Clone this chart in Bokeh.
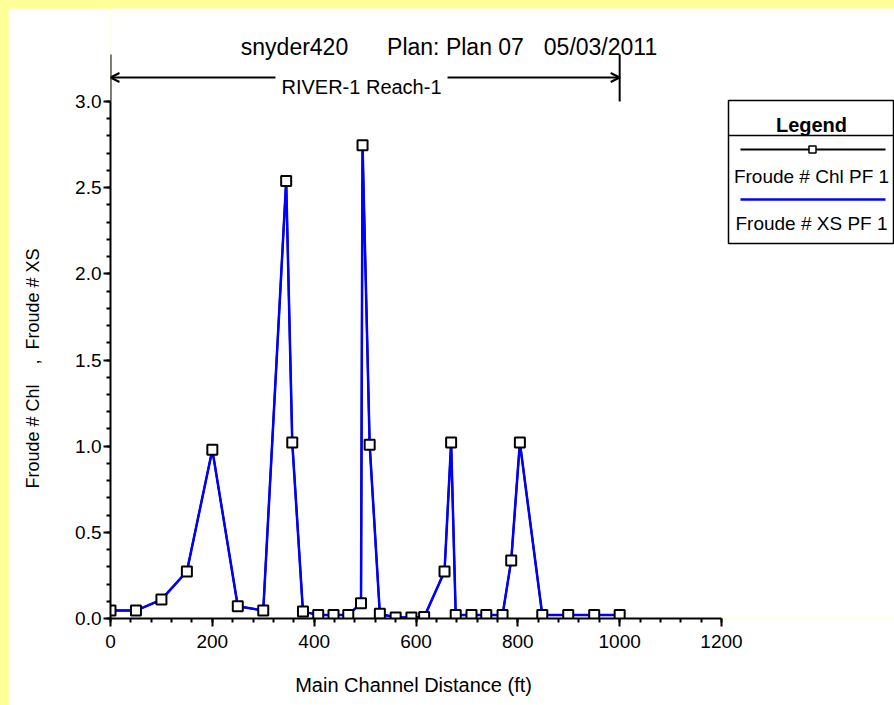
from bokeh.plotting import figure
from bokeh.models import (Range1d, SingleIntervalTicker, NumeralTickFormatter, Label,
                          Arrow, OpenHead, BoxAnnotation)
from bokeh.embed import file_html
from bokeh.resources import INLINE

# ---------------- data ----------------
stations = [0, 50, 100, 150, 200, 250, 300, 345, 357, 378, 408, 438, 467, 492, 495, 509,
            529, 560, 591, 616, 656, 669, 678, 709, 738, 770, 787, 804, 848, 899, 950, 1000]
froude_chl = [0.046, 0.046, 0.11, 0.273, 0.979, 0.071, 0.046, 2.538, 1.021, 0.04, 0.021, 0.021,
              0.021, 0.089, 2.746, 1.008, 0.027, 0.006, 0.006, 0.008, 0.273, 1.021, 0.021, 0.021,
              0.021, 0.021, 0.337, 1.021, 0.021, 0.021, 0.021, 0.021]
froude_xs = [0.046, 0.046, 0.11, 0.273, 0.979, 0.071, 0.046, 2.538, 1.021, 0.04, 0.021, 0.021,
             0.021, 0.089, 2.746, 1.008, 0.027, 0.006, 0.006, 0.008, 0.273, 1.021, 0.021, 0.021,
             0.021, 0.021, 0.337, 1.021, 0.021, 0.021, 0.021, 0.021]
x_axis_limits = [0, 1200]
y_axis_limits = [0.0, 3.0]
reach_limits = [0, 1000]
title_parts = ["snyder420", "Plan: Plan 07", "05/03/2011"]
reach_name = "RIVER-1 Reach-1"
legend_title = "Legend"
legend_labels = ["Froude # Chl PF 1", "Froude # XS PF 1"]
x_label = "Main Channel Distance (ft)"
y_label = "Froude # Chl\u00a0\u00a0\u00a0\u00a0,\u00a0\u00a0Froude # XS"

# ---------------- layout helpers (page pixel -> data) ----------------
AX_LEFT, AX_RIGHT = 110, 721      # page px of x = 0 and x = 1200
AX_BOTTOM, AX_TOP = 618, 101      # page px of y = 0 and y = 3.0
W, H = 886, 697
OFF = 8
NBSP = "\u00a0"


def dx(px):
    return (px - AX_LEFT) * (x_axis_limits[1] - x_axis_limits[0]) / (AX_RIGHT - AX_LEFT)


def dy(py):
    return (AX_BOTTOM - py) * (y_axis_limits[1] - y_axis_limits[0]) / (AX_BOTTOM - AX_TOP)


FONT = "Liberation Sans"

p = figure(width=W, height=H, output_backend="svg", toolbar_location=None,
           x_range=Range1d(0, dx(W + OFF)), y_range=Range1d(0, dy(OFF)),
           min_border_left=AX_LEFT - OFF, min_border_right=0, min_border_top=0,
           min_border_bottom=OFF + H - AX_BOTTOM)
p.outline_line_color = None
p.grid.visible = False
p.background_fill_color = "white"
p.border_fill_color = "white"

# axes
p.xaxis.bounds = tuple(x_axis_limits)
p.yaxis.bounds = tuple(y_axis_limits)
p.xaxis.ticker = SingleIntervalTicker(interval=200, num_minor_ticks=5)
p.yaxis.ticker = SingleIntervalTicker(interval=0.5, num_minor_ticks=5)
p.yaxis.formatter = NumeralTickFormatter(format="0.0")
for ax in (p.xaxis, p.yaxis):
    ax.axis_line_width = 2
    ax.axis_line_color = "black"
    ax.major_tick_line_color = "black"
    ax.minor_tick_line_color = "black"
    ax.major_tick_line_width = 2
    ax.minor_tick_line_width = 2
    ax.major_tick_in = 0
    ax.minor_tick_in = 0
    ax.major_label_text_font = FONT
    ax.major_label_text_font_size = "19px"
    ax.major_label_text_color = "black"
    ax.axis_label_text_font = FONT
    ax.axis_label_text_font_style = "normal"
    ax.axis_label_text_color = "black"
p.xaxis.major_tick_out = 8
p.xaxis.minor_tick_out = 4
p.yaxis.major_tick_out = 7
p.yaxis.minor_tick_out = 4
p.xaxis.major_label_standoff = 8
p.yaxis.major_label_standoff = 2

# axis titles: the frame is wider/taller than the drawn axes, so trailing
# non-breaking spaces shift each title to sit centred on its axis line
p.xaxis.axis_label = x_label + NBSP * 32
p.xaxis.axis_label_text_font_size = "20px"
p.xaxis.axis_label_standoff = 23
p.yaxis.axis_label = y_label + NBSP * 22
p.yaxis.axis_label_text_font_size = "18px"
p.yaxis.axis_label_standoff = 29

# data
p.line(stations, froude_chl, line_color="black", line_width=2)
p.line(stations, froude_xs, line_color="#0000ff", line_width=2.5)
p.scatter(stations, froude_chl, marker="square", size=10, line_color="black",
          line_width=2, fill_color="white")

# reach annotation
p.segment(x0=reach_limits, y0=[y_axis_limits[1]] * 2, x1=reach_limits,
          y1=[dy(54)] * 2, line_color="black", line_width=2)
p.add_layout(Arrow(x_start=reach_limits[0], y_start=dy(77), x_end=reach_limits[1], y_end=dy(77),
                   line_width=2, line_color="black",
                   start=OpenHead(size=9, line_width=2, line_color="black"),
                   end=OpenHead(size=9, line_width=2, line_color="black")))
p.add_layout(Label(x=dx(361), y=dy(86), text=reach_name, text_align="center",
                   text_baseline="alphabetic", text_font=FONT, text_font_size="20px",
                   text_color="black", background_fill_color="white", padding=6))

# title
for txt, cx in zip(title_parts, [294, 455, 600]):
    p.add_layout(Label(x=dx(cx), y=dy(46), text=txt, text_align="center",
                       text_baseline="alphabetic", text_font=FONT, text_font_size="23px",
                       text_color="black"))

# legend
p.add_layout(BoxAnnotation(left=dx(728), right=dx(893), top=dy(100), bottom=dy(243),
                           fill_color="white", fill_alpha=1, line_color="black", line_alpha=1,
                           line_width=1.5, level="underlay"))
p.segment(x0=[dx(728)], y0=[dy(135)], x1=[dx(894)], y1=[dy(135)], line_color="black", line_width=1.5)
p.add_layout(Label(x=dx(811), y=dy(124), text=legend_title, text_align="center",
                   text_baseline="alphabetic", text_font=FONT, text_font_size="20px",
                   text_font_style="bold", text_color="black"))
p.segment(x0=[dx(740)], y0=[dy(149)], x1=[dx(885)], y1=[dy(149)], line_color="black", line_width=2)
p.scatter([dx(812)], [dy(149)], marker="square", size=7, line_color="black", line_width=1.5,
          fill_color="white")
p.segment(x0=[dx(740)], y0=[dy(199)], x1=[dx(885)], y1=[dy(199)], line_color="#0000ff", line_width=2.5)
for txt, cy in zip(legend_labels, [176, 223]):
    p.add_layout(Label(x=dx(811), y=dy(cy), text=txt, text_align="center",
                       text_baseline="alphabetic", text_font=FONT, text_font_size="19px",
                       text_color="black"))

html = file_html(p, INLINE)
html = html.replace(
    "</head>",
    "<style>html { background: #FFFF99; overflow: hidden; } "
    "body { background: #FFFF99; margin: 8px 0 0 8px !important; overflow: visible; }</style></head>", 1)
open("out.html", "w").write(html)
